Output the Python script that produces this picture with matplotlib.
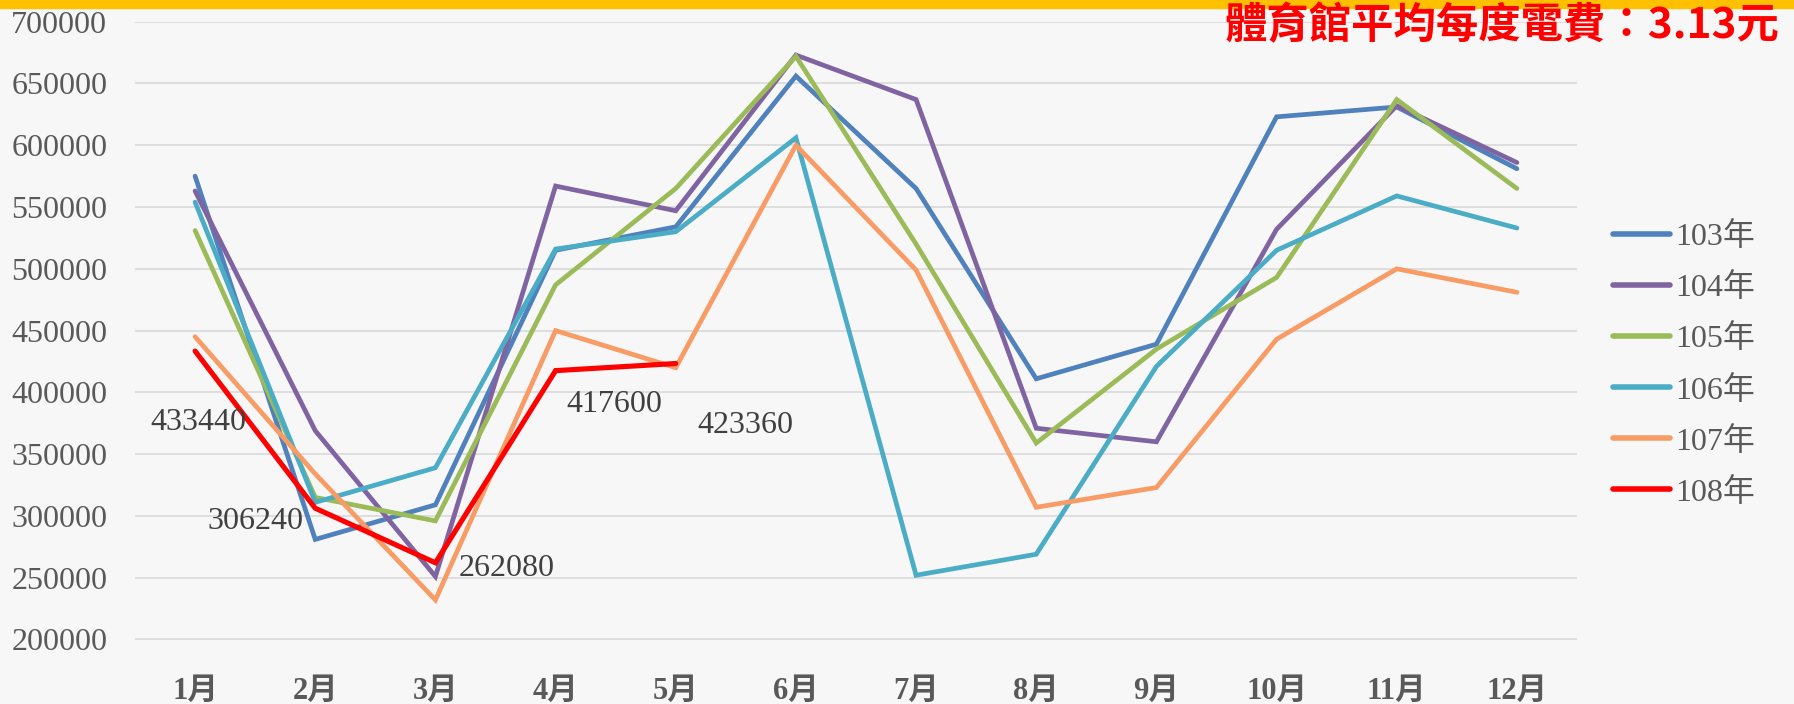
import numpy as np
import matplotlib
matplotlib.use("Agg")
import matplotlib.pyplot as plt
from matplotlib.patches import Rectangle
from matplotlib.font_manager import FontProperties

# ---------------- data ----------------
months = ["1月", "2月", "3月", "4月", "5月", "6月", "7月", "8月", "9月", "10月", "11月", "12月"]
series_names = ["103年", "104年", "105年", "106年", "107年", "108年"]
y103 = [575000, 281000, 309000, 515000, 534000, 656000, 565000, 411000, 439000, 623000, 631000, 581000]
y104 = [563000, 369000, 251000, 567000, 547000, 673000, 637000, 371000, 360000, 532000, 632000, 586000]
y105 = [531000, 315000, 296000, 487000, 565000, 672000, 520000, 359000, 435000, 493000, 637000, 565000]
y106 = [554000, 311000, 339000, 516000, 530000, 606000, 252000, 269000, 421000, 515000, 559000, 533000]
y107 = [445000, 334000, 232000, 450000, 420000, 600000, 499000, 307000, 323000, 443000, 500000, 481000]
y108 = [433440, 306240, 262080, 417600, 423360]
y_ticks = [200000, 250000, 300000, 350000, 400000, 450000, 500000, 550000, 600000, 650000, 700000]
title = "體育館平均每度電費：3.13元"

# ---------------- style ----------------
colors = ["#4F81BD", "#8064A2", "#9BBB59", "#4BACC6", "#F99B65", "#FF0000"]
widths = [3.4, 3.4, 3.4, 3.4, 3.4, 3.7]
label_offsets = [(3, -79), (-60, -21), (71, -13), (59, -41), (70, -69)]  # pixels
BG = "#F7F7F7"
W, H = 1794, 704

fig = plt.figure(figsize=(W / 100, H / 100), dpi=100)
fig.patch.set_facecolor(BG)

left, right, top, bottom = 135, 1577, 21.7, 639.5
ax = fig.add_axes([left / W, 1 - bottom / H, (right - left) / W, (bottom - top) / H])
ax.set_facecolor(BG)

x = np.arange(len(months))
all_series = [y103, y104, y105, y106, y107, y108]
for name, ys, c, lw in zip(series_names, all_series, colors, widths):
    ax.plot(x[:len(ys)], ys, color=c, lw=lw, label=name,
            solid_joinstyle="miter", solid_capstyle="round", clip_on=False, zorder=3)

ax.set_xlim(-0.5, len(months) - 0.5)
ax.set_ylim(y_ticks[0], y_ticks[-1])
ax.set_yticks(y_ticks)
ax.set_yticklabels([str(v) for v in y_ticks])
ax.grid(axis="y", color="#D9D9D9", lw=1.2, zorder=0)
ax.set_axisbelow(True)
for s in ax.spines.values():
    s.set_visible(False)

serif = ["Liberation Serif", "Noto Sans CJK TC"]
ytick_fp = FontProperties(family=serif, size=23)
xtick_fp = FontProperties(family=serif, size=22, weight="bold")
ax.tick_params(axis="y", length=0, pad=20, colors="#595959")
for lab in ax.get_yticklabels():
    lab.set_fontproperties(ytick_fp)
ax.set_xticks(x)
ax.set_xticklabels(months)
ax.tick_params(axis="x", length=0, pad=27, colors="#595959")
for lab in ax.get_xticklabels():
    lab.set_fontproperties(xtick_fp)

# data labels for 108年
for i, v in enumerate(y108):
    dx, dy = label_offsets[i]
    ax.annotate(str(v), xy=(x[i], v), xytext=(dx, dy), textcoords="offset pixels",
                ha="center", va="baseline", fontsize=23, family=serif, color="#404040",
                zorder=4)

# legend
leg = fig.legend(loc="center left", bbox_to_anchor=(1613 / W, 1 - 365 / H),
                 frameon=False, prop=FontProperties(family=serif, size=23),
                 labelcolor="#595959", handlelength=1.78, handletextpad=0.16,
                 labelspacing=0.66, borderpad=0, borderaxespad=0)
for h in leg.get_lines():
    h.set_linewidth(4.0)
    h.set_solid_capstyle("round")

# top bar and title
fig.patches.append(Rectangle((0, 1 - 8 / H), 1, 8 / H, transform=fig.transFigure,
                             color="#FFC000", zorder=5))
fig.text(1779 / W, 1 - 26 / H, title, ha="right", va="center", color="#FF0000",
         fontsize=30.5, fontweight="bold", family=["Noto Sans CJK TC", "DejaVu Sans"],
         zorder=6)

fig.savefig("out.png", dpi=100, facecolor=BG)
